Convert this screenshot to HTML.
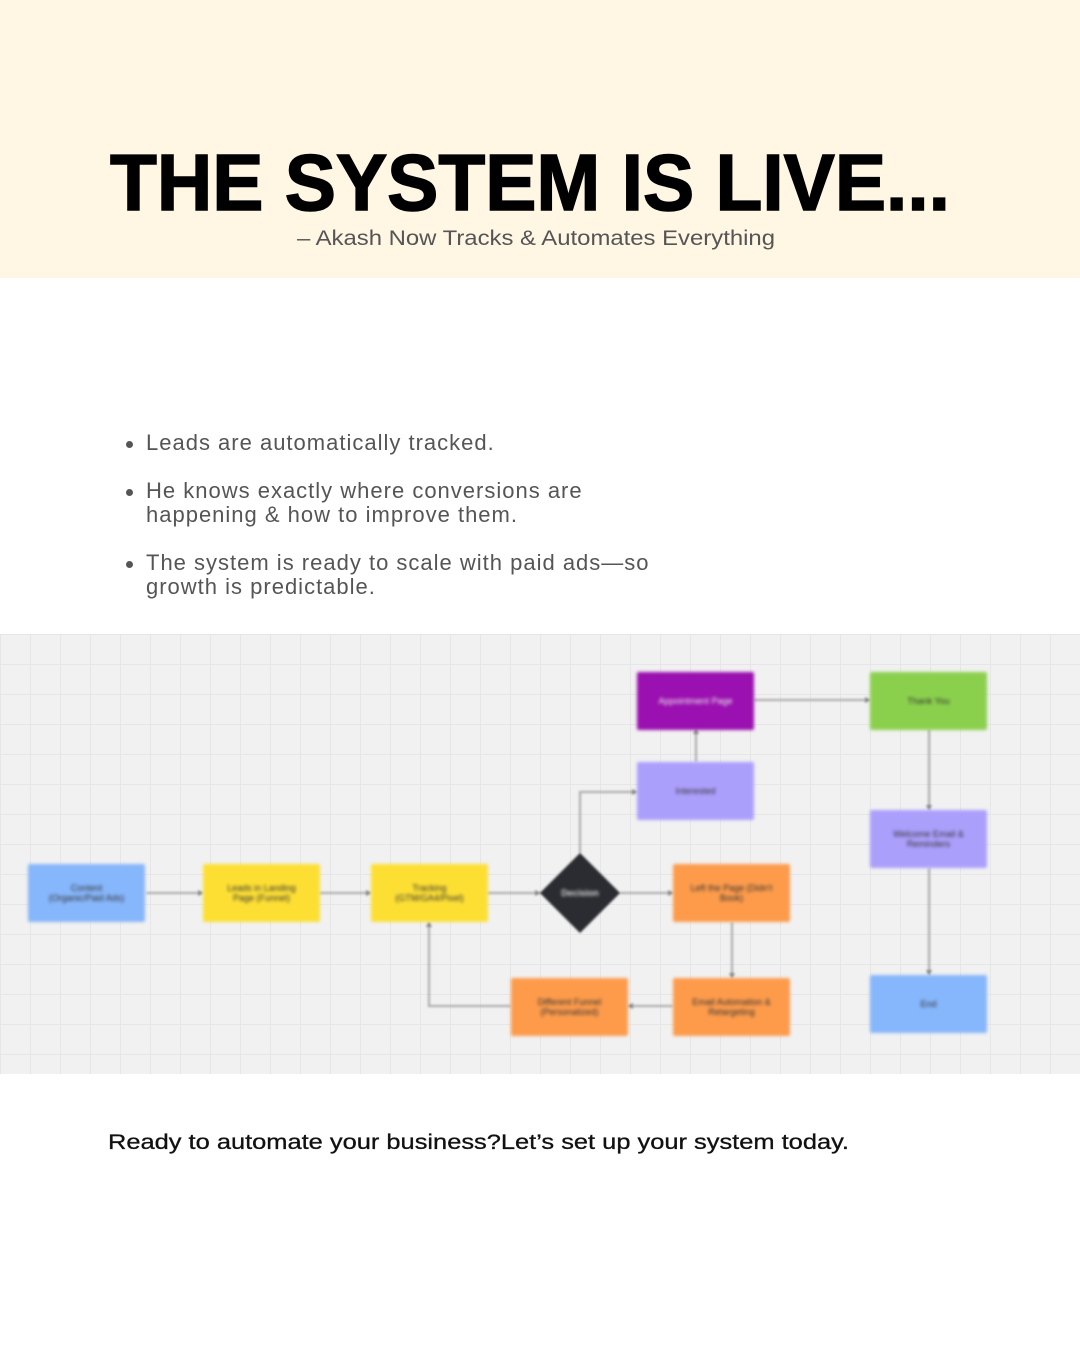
<!DOCTYPE html>
<html><head><meta charset="utf-8"><style>
html,body{margin:0;padding:0;}
body{width:1080px;height:1350px;position:relative;background:#fff;font-family:"Liberation Sans",sans-serif;overflow:hidden;}
.hdr{position:absolute;left:0;top:0;width:1080px;height:278px;background:#fff6e3;}
.b{position:absolute;left:146px;font-size:22px;letter-spacing:1px;color:#555;line-height:24px;}
.b::before{content:"";position:absolute;left:-20px;top:10px;width:7px;height:7px;border-radius:50%;background:#555;}
.dg{position:absolute;left:0;top:634px;width:1080px;height:440px;background-color:#f1f1f1;
background-image:linear-gradient(#e6e6e6 1px,transparent 1px),linear-gradient(90deg,#e6e6e6 1px,transparent 1px);background-size:30px 30px;}
.n{position:absolute;width:117px;height:58px;display:flex;align-items:center;justify-content:center;text-align:center;font-size:9px;color:#333;filter:blur(1.5px);border-radius:2px;}
</style></head><body>
<div class="hdr"></div>
<svg style="position:absolute;left:0;top:0" width="1080" height="278">
<text x="110" y="210" textLength="840" lengthAdjust="spacingAndGlyphs" font-family="Liberation Sans" font-weight="bold" font-size="80" fill="#000" stroke="#000" stroke-width="1.5">THE SYSTEM IS LIVE...</text>
<text x="297" y="245" textLength="478" lengthAdjust="spacingAndGlyphs" font-family="Liberation Sans" font-size="21" fill="#555">– Akash Now Tracks &amp; Automates Everything</text>
</svg>
<div class="b" style="top:431px">Leads are automatically tracked.</div>
<div class="b" style="top:479px">He knows exactly where conversions are<br>happening &amp; how to improve them.</div>
<div class="b" style="top:551px">The system is ready to scale with paid ads—so<br>growth is predictable.</div>
<div class="dg"></div>
<svg style="position:absolute;left:0;top:0;filter:blur(1px)" width="1080" height="1350" fill="none" stroke="#aaa" stroke-width="2">
<defs><marker id="a" markerWidth="6" markerHeight="6" refX="5" refY="3" orient="auto" markerUnits="userSpaceOnUse"><path d="M0 0L6 3L0 6Z" fill="#888" stroke="none"/></marker></defs>
<g marker-end="url(#a)">
<path d="M146 893H203"/><path d="M319 893H371"/><path d="M487 893H540"/><path d="M620 893H673"/>
<path d="M580 853V792H637"/><path d="M696 762V729"/><path d="M754 700H870"/><path d="M929 729V810"/>
<path d="M929 868V975"/><path d="M732 922V978"/><path d="M673 1006H628"/><path d="M511 1006H429V922"/>
</g>
<polygon points="580,853 620,893 580,933 540,893" fill="#2b2c31" stroke="none"/>
</svg>
<div class="n" style="left:28px;top:864px;background:#86b6fb">Content<br>(Organic/Paid Ads)</div>
<div class="n" style="left:203px;top:864px;background:#fddf34">Leads in Landing<br>Page (Funnel)</div>
<div class="n" style="left:371px;top:864px;background:#fddf34">Tracking<br>(GTM/GA4/Pixel)</div>
<div class="n" style="left:540px;top:864px;width:80px;background:none;color:#ddd;font-weight:bold">Decision</div>
<div class="n" style="left:673px;top:864px;background:#fd9b4b">Left the Page (Didn't<br>Book)</div>
<div class="n" style="left:637px;top:672px;background:#9a10b0;color:#eee">Appointment Page</div>
<div class="n" style="left:637px;top:762px;background:#ab9ffc">Interested</div>
<div class="n" style="left:870px;top:672px;background:#8bd04d">Thank You</div>
<div class="n" style="left:870px;top:810px;background:#ab9ffc">Welcome Email &amp;<br>Reminders</div>
<div class="n" style="left:870px;top:975px;background:#86b6fb">End</div>
<div class="n" style="left:673px;top:978px;background:#fd9b4b">Email Automation &amp;<br>Retargeting</div>
<div class="n" style="left:511px;top:978px;background:#fd9b4b">Different Funnel<br>(Personalized)</div>
<svg style="position:absolute;left:0;top:1120px" width="1080" height="40">
<text x="108" y="29" textLength="741" lengthAdjust="spacingAndGlyphs" font-family="Liberation Sans" font-size="21" fill="#111" stroke="#111" stroke-width="0.3">Ready to automate your business?Let’s set up your system today.</text>
</svg>
</body></html>
